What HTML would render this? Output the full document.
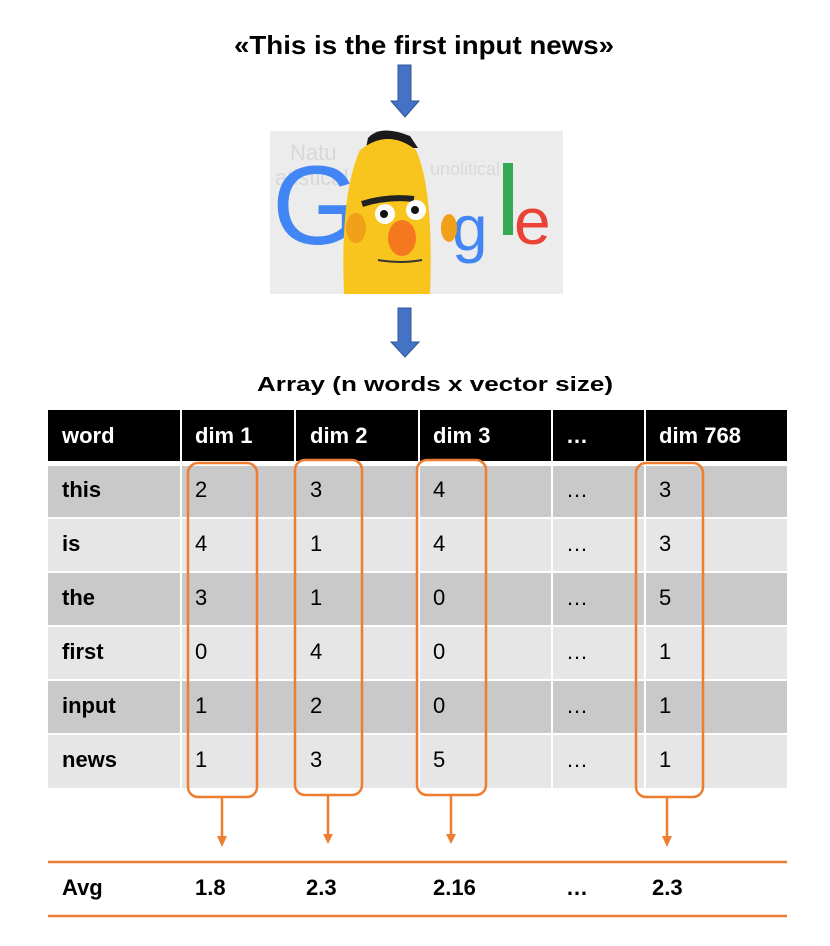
<!DOCTYPE html>
<html><head><meta charset="utf-8"><style>
html,body{margin:0;padding:0;background:#fff;width:830px;height:946px;overflow:hidden}
text{font-family:"Liberation Sans",sans-serif}
</style></head><body>
<svg width="830" height="946" viewBox="0 0 830 946" xmlns="http://www.w3.org/2000/svg">
<rect width="830" height="946" fill="#fff"/>
<text x="424" y="54" text-anchor="middle" font-size="26" font-weight="bold" textLength="380" lengthAdjust="spacingAndGlyphs">«This is the first input news»</text>
<g fill="#4472c4" stroke="#2f5597" stroke-width="1">
<polygon points="398,65 411,65 411,101 419,101 405,117 391,101 398,101"/>
<polygon points="398,308 411,308 411,342 419,342 405,357 391,342 398,342"/>
</g>
<rect x="270" y="131" width="293" height="163" fill="#ececec"/>
<text x="290" y="160" font-size="22" fill="#d8d8d8">Natu</text>
<text x="275" y="185" font-size="22" fill="#d8d8d8">atistical</text>
<text x="430" y="175" font-size="18" fill="#dadada">unolitical</text>
<text x="272" y="244" font-size="112" fill="#4285f4" textLength="88" lengthAdjust="spacingAndGlyphs">G</text>
<text x="452" y="250" font-size="64" fill="#4285f4">g</text>
<rect x="503" y="163" width="10" height="72" fill="#34a853"/>
<text x="514" y="244" font-size="66" fill="#ea4335">e</text>
<path d="M368,138 q12,-14 42,-2 l8,12 h-52 z" fill="#1a1a1a"/>
<path d="M360,150 q28,-22 56,0 q18,40 14,144 h-86 q-4,-100 16,-144z" fill="#f7c51e"/>
<ellipse cx="356" cy="228" rx="10" ry="15" fill="#f0a019"/>
<ellipse cx="449" cy="228" rx="8" ry="14" fill="#f0a019"/>
<path d="M362,204 q25,-8 52,-5" stroke="#222" stroke-width="6" fill="none"/>
<circle cx="385" cy="214" r="10" fill="#fff"/><circle cx="384" cy="214" r="4" fill="#111"/>
<circle cx="416" cy="210" r="10" fill="#fff"/><circle cx="415" cy="210" r="4" fill="#111"/>
<ellipse cx="402" cy="238" rx="14" ry="18" fill="#f5781e"/>
<path d="M378,260 q22,4 44,0" stroke="#333" stroke-width="2" fill="none"/>
<text x="435" y="391" text-anchor="middle" font-size="20" font-weight="bold" textLength="356" lengthAdjust="spacingAndGlyphs">Array (n words x vector size)</text>
<g fill="#000">
<rect x="48" y="410" width="132" height="51"/><rect x="182" y="410" width="112" height="51"/>
<rect x="296" y="410" width="122" height="51"/><rect x="420" y="410" width="131" height="51"/>
<rect x="553" y="410" width="91" height="51"/><rect x="646" y="410" width="141" height="51"/>
</g>
<g fill="#fff" font-size="22" font-weight="bold">
<text x="62" y="443">word</text><text x="195" y="443">dim 1</text><text x="310" y="443">dim 2</text>
<text x="433" y="443">dim 3</text><text x="566" y="443">…</text><text x="659" y="443">dim 768</text>
</g>
<rect x="48" y="466" width="739" height="51" fill="#c9c9c9"/>
<rect x="48" y="519" width="739" height="52" fill="#e6e6e6"/>
<rect x="48" y="573" width="739" height="52" fill="#c9c9c9"/>
<rect x="48" y="627" width="739" height="52" fill="#e6e6e6"/>
<rect x="48" y="681" width="739" height="52" fill="#c9c9c9"/>
<rect x="48" y="735" width="739" height="53" fill="#e6e6e6"/>
<g stroke="#fff" stroke-width="2">
<line x1="181" y1="410" x2="181" y2="789"/><line x1="295" y1="410" x2="295" y2="789"/>
<line x1="419" y1="410" x2="419" y2="789"/><line x1="552" y1="410" x2="552" y2="789"/>
<line x1="645" y1="410" x2="645" y2="789"/>
</g>
<g font-size="22" font-weight="bold">
<text x="62" y="497">this</text><text x="62" y="551">is</text><text x="62" y="605">the</text>
<text x="62" y="659">first</text><text x="62" y="713">input</text><text x="62" y="767">news</text>
</g>
<g font-size="22">
<text x="195" y="497">2</text><text x="195" y="551">4</text><text x="195" y="605">3</text><text x="195" y="659">0</text><text x="195" y="713">1</text><text x="195" y="767">1</text>
<text x="310" y="497">3</text><text x="310" y="551">1</text><text x="310" y="605">1</text><text x="310" y="659">4</text><text x="310" y="713">2</text><text x="310" y="767">3</text>
<text x="433" y="497">4</text><text x="433" y="551">4</text><text x="433" y="605">0</text><text x="433" y="659">0</text><text x="433" y="713">0</text><text x="433" y="767">5</text>
<text x="566" y="497">…</text><text x="566" y="551">…</text><text x="566" y="605">…</text><text x="566" y="659">…</text><text x="566" y="713">…</text><text x="566" y="767">…</text>
<text x="659" y="497">3</text><text x="659" y="551">3</text><text x="659" y="605">5</text><text x="659" y="659">1</text><text x="659" y="713">1</text><text x="659" y="767">1</text>
</g>
<g fill="none" stroke="#ed7d31" stroke-width="2.5">
<rect x="188" y="463" width="69" height="334" rx="10"/>
<rect x="295" y="460" width="67" height="335" rx="10"/>
<rect x="417" y="460" width="69" height="335" rx="10"/>
<rect x="636" y="463" width="67" height="334" rx="10"/>
<line x1="222" y1="797" x2="222" y2="836"/><line x1="328" y1="795" x2="328" y2="834"/>
<line x1="451" y1="795" x2="451" y2="834"/><line x1="667" y1="797" x2="667" y2="836"/>
<line x1="48" y1="862" x2="787" y2="862"/><line x1="48" y1="916" x2="787" y2="916"/>
</g>
<g fill="#ed7d31">
<polygon points="217,836 227,836 222,847"/><polygon points="323,834 333,834 328,844"/>
<polygon points="446,834 456,834 451,844"/><polygon points="662,836 672,836 667,847"/>
</g>
<g font-size="22" font-weight="bold">
<text x="62" y="895">Avg</text><text x="195" y="895">1.8</text><text x="306" y="895">2.3</text>
<text x="433" y="895">2.16</text><text x="566" y="895">…</text><text x="652" y="895">2.3</text>
</g>
</svg>
</body></html>
